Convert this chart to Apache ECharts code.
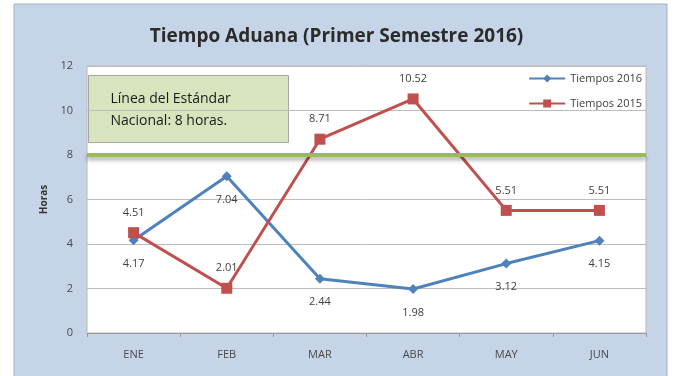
<!DOCTYPE html>
<html>
<head>
<meta charset="utf-8">
<script src="https://cdn.jsdelivr.net/npm/echarts@6/dist/echarts.min.js"></script>
<style>
  html, body { margin: 0; padding: 0; background: #ffffff; }
  #chart { width: 673px; height: 376px; }
</style>
</head>
<body>
<div id="chart"></div>
<script>
// Months of the first semester
const months = ['ENE', 'FEB', 'MAR', 'ABR', 'MAY', 'JUN'];
// Customs clearance time, hours
const tiempos2016 = [4.17, 7.04, 2.44, 1.98, 3.12, 4.15];
const tiempos2015 = [4.51, 2.01, 8.71, 10.52, 5.51, 5.51];
// National standard, hours
const estandarNacional = 8;
const yTicks = [0, 2, 4, 6, 8, 10, 12];

const chart = echarts.init(document.getElementById('chart'), null, { renderer: 'canvas' });

const labelStyle = {
  show: true,
  fontFamily: 'Open Sans',
  fontSize: 11,
  color: '#404040',
  formatter: p => p.value.toFixed(2)
};

chart.setOption({
  animation: false,
  backgroundColor: '#ffffff',
  title: {
    text: 'Tiempo Aduana (Primer Semestre 2016)',
    left: 'center',
    top: 22,
    textStyle: { fontFamily: 'Open Sans', fontWeight: 700, fontSize: 19, color: '#2b2b2b' }
  },
  graphic: [
    {
      type: 'rect', z: -10, silent: true,
      shape: { x: 14, y: 4, width: 653, height: 380 },
      style: { fill: '#c5d4e6', stroke: '#9fb3cc', lineWidth: 1 }
    },
    {
      type: 'group', z: 100, left: 88, top: 75,
      children: [
        {
          type: 'rect',
          shape: { x: 0, y: 0, width: 200, height: 67 },
          style: { fill: '#d7e4bd', stroke: '#a6a6a6', lineWidth: 1 }
        },
        {
          type: 'text', x: 22, y: 13,
          style: {
            text: 'Línea del Estándar\nNacional: 8 horas.',
            fontFamily: 'Open Sans', fontSize: 14, lineHeight: 22,
            fill: '#1a1a1a'
          }
        }
      ]
    }
  ],
  legend: {
    right: 26, top: 68,
    orient: 'vertical',
    itemGap: 14,
    itemWidth: 36, itemHeight: 10,
    textStyle: { fontFamily: 'Open Sans', fontSize: 11, color: '#404040' },
    data: ['Tiempos 2016', 'Tiempos 2015']
  },
  grid: {
    left: 87, right: 27, top: 66, bottom: 43,
    show: true, backgroundColor: '#ffffff', borderColor: '#b8b8b8', borderWidth: 1
  },
  xAxis: {
    type: 'category',
    data: months,
    boundaryGap: true,
    axisLine: { lineStyle: { color: '#9a9a9a' } },
    axisTick: { show: true, length: 4, lineStyle: { color: '#9a9a9a' } },
    axisLabel: { fontFamily: 'Open Sans', fontSize: 11, color: '#4a4a4a', margin: 16 },
    splitLine: { show: false }
  },
  yAxis: {
    type: 'value',
    min: yTicks[0], max: yTicks[yTicks.length - 1], interval: 2,
    name: 'Horas',
    nameLocation: 'middle',
    nameGap: 38,
    nameRotate: 90,
    nameTextStyle: { fontFamily: 'Open Sans', fontWeight: 700, fontSize: 10, color: '#333333' },
    axisLine: { show: false },
    axisTick: { show: false },
    axisLabel: { fontFamily: 'Open Sans', fontSize: 11, color: '#4a4a4a', margin: 14 },
    splitLine: { show: true, lineStyle: { color: '#bdbdbd', width: 1 } }
  },
  series: [
    {
      name: 'Tiempos 2016',
      type: 'line',
      data: tiempos2016,
      symbol: 'diamond',
      symbolSize: 10,
      itemStyle: { color: '#4f81bd' },
      lineStyle: { color: '#4f81bd', width: 3 },
      label: Object.assign({ position: 'bottom', distance: 13 }, labelStyle),
      z: 3
    },
    {
      name: 'Tiempos 2015',
      type: 'line',
      data: tiempos2015,
      symbol: 'rect',
      symbolSize: 11,
      itemStyle: { color: '#c0504d' },
      lineStyle: { color: '#c0504d', width: 3 },
      label: Object.assign({ position: 'top', distance: 9 }, labelStyle),
      z: 4,
      markLine: {
        silent: true,
        symbol: 'none',
        label: { show: false },
        lineStyle: {
          type: 'solid', color: '#9bbb59', width: 4,
          shadowColor: 'rgba(0,0,0,0.35)', shadowBlur: 4, shadowOffsetY: 3
        },
        data: [{ yAxis: estandarNacional }]
      }
    }
  ]
});
</script>
</body>
</html>
